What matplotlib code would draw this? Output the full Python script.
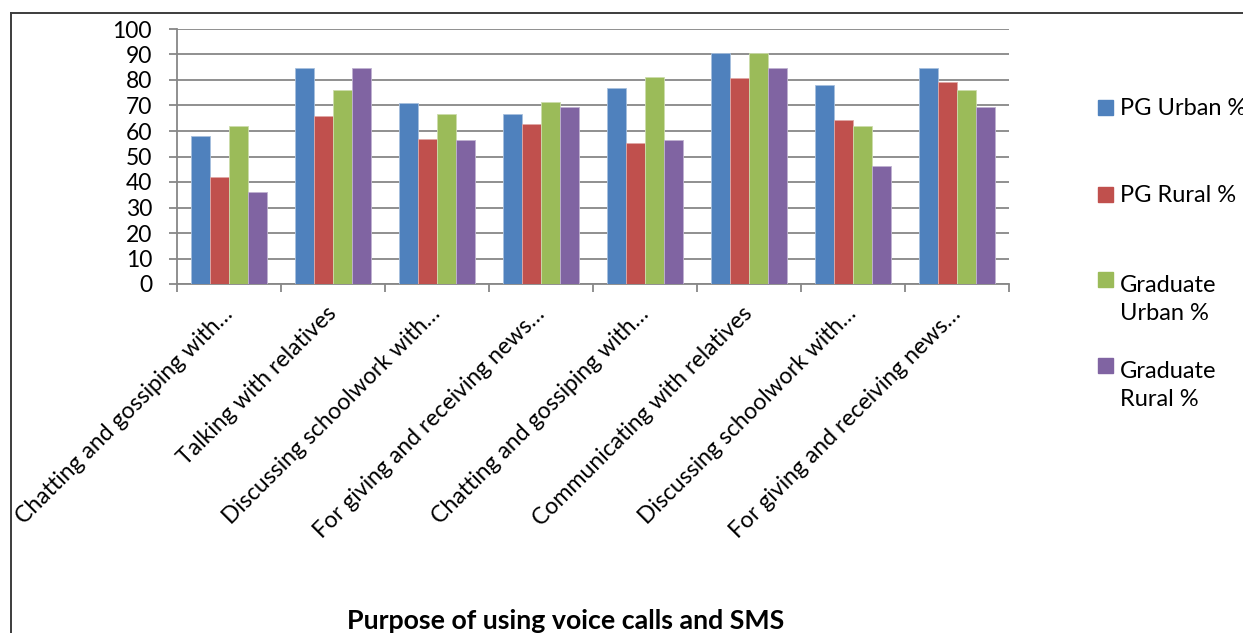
import matplotlib

matplotlib.use("Agg")
import matplotlib.pyplot as plt
import matplotlib.transforms as mtransforms
from matplotlib.lines import Line2D
from matplotlib.patches import Rectangle
import numpy as np

plt.rcParams["font.family"] = ["Lato", "DejaVu Sans"]

CATEGORIES = [
    "Chatting and gossiping with…",
    "Talking with relatives",
    "Discussing schoolwork with…",
    "For giving and receiving news…",
    "Chatting and gossiping with…",
    "Communicating with relatives",
    "Discussing schoolwork with…",
    "For giving and receiving news…",
]
SERIES = ["PG Urban %", "PG Rural %", "Graduate\nUrban %", "Graduate\nRural %"]
PG_URBAN = [58, 84.6, 71.1, 66.8, 76.7, 90.5, 77.9, 84.6]
PG_RURAL = [41.8, 65.8, 56.7, 62.7, 55.3, 80.7, 64.3, 79.3]
GRAD_URBAN = [62, 76.2, 66.7, 71.5, 81, 90.6, 62, 76.2]
GRAD_RURAL = [36, 84.7, 56.5, 69.4, 56.5, 84.7, 46.3, 69.4]
COLORS = ["#4F81BD", "#C0504D", "#9BBB59", "#8064A2"]
EDGES = ["#A7C0DE", "#E0A8A6", "#CDDDAC", "#BFB1D0"]
YTICKS = list(range(0, 101, 10))

W, H = 1243, 633
GRID = "#878787"

fig = plt.figure(figsize=(W / 100, H / 100), dpi=100)

# outer chart frame (right and bottom edges fall outside the canvas)
fig.add_artist(Line2D([11 / W, 1.0], [1 - 13 / H, 1 - 13 / H], color="#3c3c3c", lw=1.4))
fig.add_artist(Line2D([11 / W, 11 / W], [0.0, 1 - 13 / H], color="#3c3c3c", lw=1.4))

ax = fig.add_axes([177 / W, 1 - 284 / H, (1009 - 177) / W, (284 - 29) / H])

values = [PG_URBAN, PG_RURAL, GRAD_URBAN, GRAD_RURAL]
n = len(CATEGORIES)
bar_w = 1 / 5.5
centers = np.arange(n) + 0.5
for k, vals in enumerate(values):
    ax.bar(centers + (k - 1.5) * bar_w, vals, width=bar_w, color=COLORS[k],
           edgecolor=EDGES[k], linewidth=0.6, zorder=3)

ax.set_xlim(0, n)
ax.set_ylim(0, 100)
ax.set_yticks(YTICKS)
ax.set_yticklabels([str(v) for v in YTICKS], fontsize=16.5)
ax.yaxis.grid(True, color=GRID, linewidth=1.3, zorder=0)
ax.set_axisbelow(True)

ax.set_xticks(np.arange(n + 1))
ax.set_xticklabels([])
ax.set_xticks(centers, minor=True)
ax.set_xticklabels(CATEGORIES, minor=True, rotation=45, ha="right", va="center",
                   rotation_mode="anchor", fontsize=16.6)
shift = mtransforms.ScaledTranslation(36 / 100, 0, fig.dpi_scale_trans)
for lbl in ax.get_xticklabels(minor=True):
    lbl.set_transform(lbl.get_transform() + shift)

ax.tick_params(axis="x", which="major", length=6, width=1.3, color=GRID, direction="out")
ax.tick_params(axis="x", which="minor", length=0, pad=19)
ax.tick_params(axis="y", length=6, width=1.3, color=GRID, pad=12)

for side in ("top", "right"):
    ax.spines[side].set_visible(False)
for side in ("left", "bottom"):
    ax.spines[side].set_color(GRID)
    ax.spines[side].set_linewidth(1.3)

# legend entries down the right-hand side; wrapped names sit one line lower
baselines = [115, 202, 287, 373]
line_gap = 33
for k, name in enumerate(SERIES):
    b = baselines[k]
    extra = name.count("\n") * line_gap
    fig.add_artist(Rectangle((1098 / W, 1 - b / H), 15 / W, 15 / H,
                             transform=fig.transFigure, color=COLORS[k]))
    fig.text(1120 / W, 1 - (b + extra) / H, name, fontsize=17, va="baseline",
             ha="left", linespacing=1.42)

fig.text(566 / W, 1 - 629 / H, "Purpose of using voice calls and SMS",
         fontsize=19.3, fontweight="bold", ha="center", va="baseline")

fig.savefig("out.png", dpi=100)
